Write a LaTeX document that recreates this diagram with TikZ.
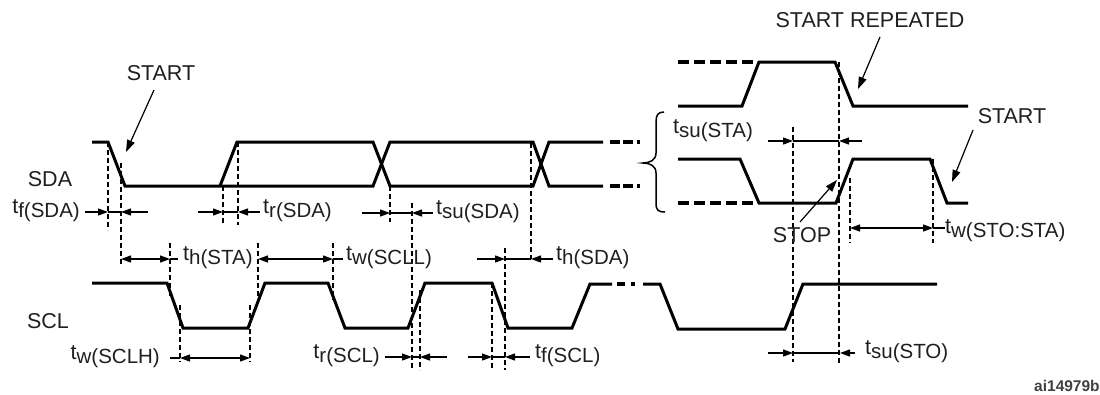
\documentclass[tikz,border=0pt]{standalone}
\usepackage{fontspec}
\setmainfont{Liberation Sans}
\usetikzlibrary{arrows.meta}
\newcommand{\mytsub}[1]{t\raisebox{-4.5pt}{\fontsize{20.5}{24}\selectfont #1}}
\begin{document}
\begin{tikzpicture}[x=1pt,y=-1pt,
  sig/.style={line width=3pt, line join=miter},
  bus/.style={line width=4pt},
  guide/.style={line width=1.4pt, dash pattern=on 5pt off 3pt},
  dimline/.style={line width=1.2pt},
  tipr/.style={-{Triangle[length=10pt,width=7pt]}},
  lbl/.style={inner sep=0pt, font=\fontsize{21.5}{25}\selectfont, text=black!88},
  ptr/.style={line width=1.2pt, -{Triangle[length=12pt,width=8pt]}}]
\useasboundingbox (0,0) rectangle (1100,394);

% ---------------- SDA main ----------------
\draw[sig] (92,142)--(108,142)--(125,186)--(373,186)--(390,142)--(533,142)--(549,186)--(603,186);
\draw[sig] (220,186)--(237,142)--(373,142)--(390,186)--(533,186)--(549,142)--(603,142);
\foreach \yy in {142,186}{
  \draw[bus] (610,\yy)--(620,\yy);
  \draw[bus] (623,\yy)--(633,\yy);
  \draw[bus] (637,\yy)--(640,\yy);
}
% brace
\draw[line width=1.5pt] (664,112) .. controls (658,112) and (656,115) .. (656,122) -- (656,153)
  .. controls (656,160) and (650,163) .. (643,163) .. controls (650,163) and (656,166) .. (656,173)
  -- (656,203) .. controls (656,210) and (658,212) .. (665,212);

% ---------------- SDA right, two variants ----------------
\draw[sig] (678,106)--(742,106)--(759,62)--(835,62)--(853,106)--(968,106);
\draw[bus, dash pattern=on 11pt off 5pt] (678,62)--(755,62);
\draw[sig] (678,159)--(740,159)--(759,203)--(836,203)--(853,159)--(930,159)--(947,203)--(968,203);
\draw[bus, dash pattern=on 11pt off 5pt] (678,203)--(755,203);

% ---------------- SCL ----------------
\draw[sig] (92,283)--(167,283)--(183,328)--(248,328)--(265,283)--(328,283)--(345,328)--(408,328)--(425,283)--(492,283)--(508,328)--(572,328)--(590,284)--(612,284);
\draw[bus] (617,284)--(625,284);
\draw[bus] (631,284)--(635,284);
\draw[sig] (643,284)--(660,284)--(678,329)--(785,329)--(803,284)--(937,284);

% ---------------- dashed guides ----------------
\draw[guide] (108,142)--(108,230);
\draw[guide] (121,163)--(121,266);
\draw[guide] (223,186)--(223,225);
\draw[guide] (238,142)--(238,225);
\draw[guide] (390,186)--(390,222);
\draw[guide] (412,203)--(412,370);
\draw[guide] (531,143)--(531,259);
\draw[guide] (170,243)--(170,296);
\draw[guide] (258,243)--(258,300);
\draw[guide] (333,243)--(333,300);
\draw[guide] (180,305)--(180,362);
\draw[guide] (250,305)--(250,362);
\draw[guide] (420,290)--(420,370);
\draw[guide] (492,283)--(492,370);
\draw[guide] (505,248)--(505,370);
\draw[guide] (793,127)--(793,362);
\draw[guide] (839,62)--(839,365);
\draw[guide] (850,178)--(850,243);
\draw[guide] (933,159)--(933,243);

% ---------------- dimension arrows ----------------
% tf(SDA)
\draw[dimline,tipr] (85,212)--(108,212);
\draw[dimline] (108,212)--(121,212);
\draw[dimline,tipr] (148,212)--(121,212);
% tr(SDA)
\draw[dimline,tipr] (198,212)--(223,212);
\draw[dimline] (223,212)--(238,212);
\draw[dimline,tipr] (260,212)--(238,212);
% tsu(SDA)
\draw[dimline,tipr] (362,213)--(390,213);
\draw[dimline] (390,213)--(412,213);
\draw[dimline,tipr] (433,213)--(412,213);
% th(STA)
\draw[dimline,{Triangle[length=10pt,width=7pt]}-{Triangle[length=10pt,width=7pt]}] (121,259)--(170,259);
\draw[dimline] (170,259)--(178,259);
% tw(SCLL)
\draw[dimline,{Triangle[length=10pt,width=7pt]}-{Triangle[length=10pt,width=7pt]}] (258,259)--(333,259);
\draw[dimline] (333,259)--(343,259);
% th(SDA)
\draw[dimline,tipr] (477,259)--(505,259);
\draw[dimline] (505,259)--(531,259);
\draw[dimline,tipr] (553,259)--(531,259);
% tw(SCLH)
\draw[dimline] (170,358)--(180,358);
\draw[dimline,{Triangle[length=10pt,width=7pt]}-{Triangle[length=10pt,width=7pt]}] (180,358)--(250,358);
% tr(SCL)
\draw[dimline,tipr] (385,357)--(412,357);
\draw[dimline] (412,357)--(420,357);
\draw[dimline,tipr] (447,357)--(420,357);
% tf(SCL)
\draw[dimline,tipr] (468,357)--(492,357);
\draw[dimline] (492,357)--(505,357);
\draw[dimline,tipr] (530,357)--(505,357);
% tsu(STO)
\draw[dimline,tipr] (768,353)--(793,353);
\draw[dimline] (793,353)--(840,353);
\draw[dimline,tipr] (855,353)--(840,353);
% tsu(STA)
\draw[dimline,tipr] (768,141)--(793,141);
\draw[dimline] (793,141)--(839,141);
\draw[dimline,tipr] (862,141)--(839,141);
% tw(STO:STA)
\draw[dimline,{Triangle[length=10pt,width=7pt]}-{Triangle[length=10pt,width=7pt]}] (850,228)--(933,228);
\draw[dimline] (933,228)--(945,228);

% ---------------- labels ----------------
\node[lbl,anchor=base] (start1) at (161,80) {START};
\node[lbl,anchor=base] (sda) at (50,186) {SDA};
\node[lbl,anchor=base] (scl) at (48,328) {SCL};
\node[lbl,anchor=base] (startrep) at (870,27) {START REPEATED};
\node[lbl,anchor=base] (start2) at (1012,123) {START};
\node[lbl,anchor=base] (stop) at (802,242) {STOP};
\node[inner sep=0pt,anchor=base west,font=\fontsize{15.5}{18}\selectfont\bfseries,text=black!75] (ref) at (1034,391) {ai14979b};

\node[lbl,anchor=base east] (tfsda) at (80,213) {\mytsub{f(SDA)}};
\node[lbl,anchor=base west] (trsda) at (263,213) {\mytsub{r(SDA)}};
\node[lbl,anchor=base west] (tsusda) at (436,214) {\mytsub{su(SDA)}};
\node[lbl,anchor=base west] (thsta) at (183,260) {\mytsub{h(STA)}};
\node[lbl,anchor=base west] (twscll) at (346,260) {\mytsub{w(SCLL)}};
\node[lbl,anchor=base west] (thsda) at (556,260) {\mytsub{h(SDA)}};
\node[lbl,anchor=base east] (twsclh) at (160,359) {\mytsub{w(SCLH)}};
\node[lbl,anchor=base east] (trscl) at (380,358) {\mytsub{r(SCL)}};
\node[lbl,anchor=base west] (tfscl) at (535,358) {\mytsub{f(SCL)}};
\node[lbl,anchor=base west] (tsusto) at (865,354) {\mytsub{su(STO)}};
\node[lbl,anchor=base west] (tsusta) at (673,133) {\mytsub{su(STA)}};
\node[lbl,anchor=base west] (twstosta) at (945,233) {\mytsub{w(STO:STA)}};

% ---------------- pointer arrows ----------------
\coordinate (p1a) at (154,90);  \coordinate (p1b) at (126,152);
\coordinate (p2a) at (880,37);  \coordinate (p2b) at (858,89);
\coordinate (p3a) at (973,130); \coordinate (p3b) at (952,182);
\coordinate (p4a) at (800,222); \coordinate (p4b) at (837,180);
\draw[ptr] (p1a)--(p1b);
\draw[ptr] (p2a)--(p2b);
\draw[ptr] (p3a)--(p3b);
\draw[ptr] (p4a)--(p4b);
\end{tikzpicture}
\end{document}
